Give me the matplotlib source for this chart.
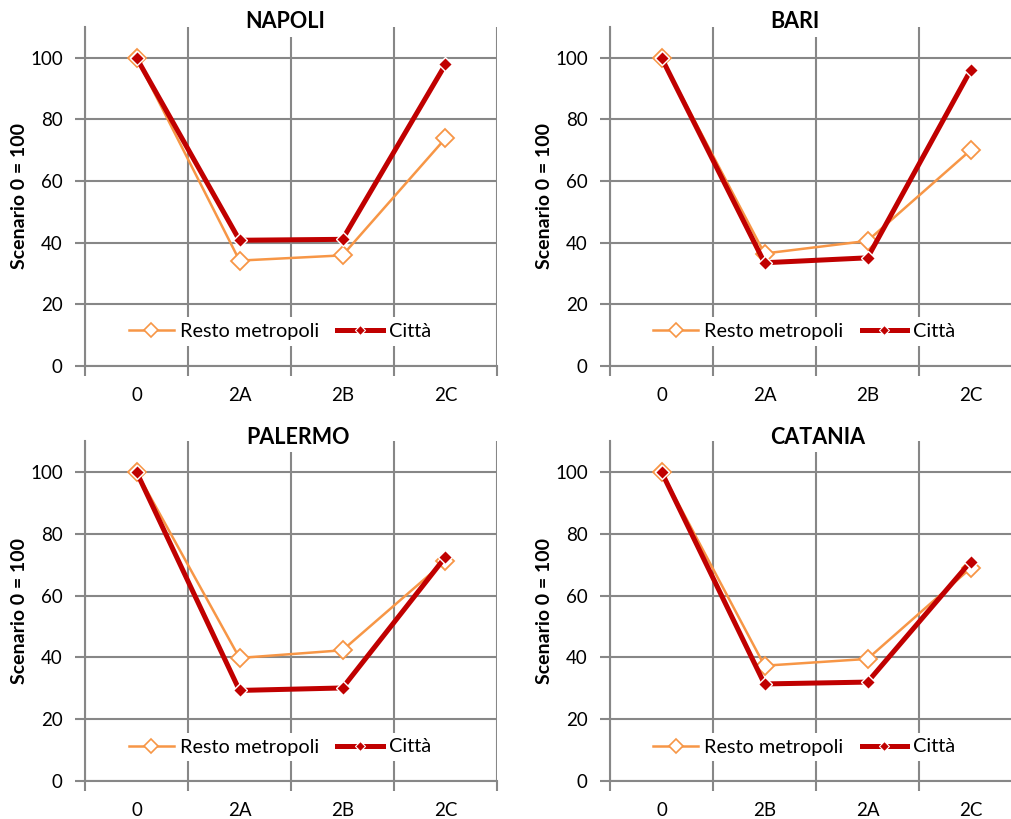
import matplotlib.pyplot as plt
from matplotlib.lines import Line2D

plt.rcParams['font.family'] = ['Lato', 'DejaVu Sans']

# categories (Catania has 2B before 2A)
cats_std = ['0', '2A', '2B', '2C']
cats_catania = ['0', '2B', '2A', '2C']

napoli_resto = [100, 34.2, 35.9, 73.9]
napoli_citta = [100, 40.8, 41.1, 97.9]
bari_resto = [100, 36.5, 40.6, 70.0]
bari_citta = [100, 33.5, 35.1, 95.9]
palermo_resto = [100, 39.8, 42.3, 71.2]
palermo_citta = [100, 29.3, 30.1, 72.5]
catania_resto = [100, 37.3, 39.5, 68.8]
catania_citta = [100, 31.4, 32.0, 70.9]

ORANGE = '#F79646'
RED = '#C00000'
GRID = '#878787'

W, H = 1011, 819
fig = plt.figure(figsize=(W / 100, H / 100), dpi=100)


def px_axes(left, top, right, bottom):
    return fig.add_axes([left / W, 1 - bottom / H, (right - left) / W, (bottom - top) / H])


def draw_panel(ax, cats, resto, citta, legend_xy):
    x = range(len(cats))
    ax.plot(x, resto, color=ORANGE, lw=1.8, marker='D', ms=9.5,
            mfc='white', mec=ORANGE, mew=1.3, zorder=3)
    ax.plot(x, citta, color=RED, lw=3.6, marker='D', ms=7.5,
            mfc=RED, mec='white', mew=1.0, zorder=4)

    ax.set_xlim(-0.5, len(cats) - 0.5)
    ax.set_ylim(0, 110)
    ax.set_yticks(range(0, 101, 20))
    ax.set_xticks([i - 0.5 for i in range(len(cats) + 1)])
    ax.set_xticklabels([])
    ax.set_xticks(list(x), minor=True)
    ax.set_xticklabels(cats, minor=True)
    ax.tick_params(axis='x', which='major', length=7, width=1.5, color=GRID)
    ax.tick_params(axis='x', which='minor', length=0, pad=15, labelsize=13.5)
    ax.tick_params(axis='y', length=7, width=1.5, color=GRID, pad=9, labelsize=13.5)
    ax.grid(True, which='major', color=GRID, lw=1.5)
    ax.set_axisbelow(True)
    for s in ['top', 'right']:
        ax.spines[s].set_visible(False)
    for s in ['left', 'bottom']:
        ax.spines[s].set_color(GRID)
        ax.spines[s].set_linewidth(1.5)

    h_resto = Line2D([], [], color=ORANGE, lw=1.8, marker='D', ms=7,
                     mfc='white', mec=ORANGE, mew=1.2)
    h_citta = Line2D([], [], color=RED, lw=3.6, marker='D', ms=5.5,
                     mfc=RED, mec='white', mew=0.8)
    leg = ax.legend([h_resto, h_citta], ['Resto metropoli', 'Città'], ncol=2,
                    loc='center', bbox_to_anchor=legend_xy, fontsize=14.3,
                    handlelength=2.3, handletextpad=0.3, columnspacing=0.9,
                    frameon=True, fancybox=False, borderpad=0.3)
    leg.get_frame().set_facecolor('white')
    leg.get_frame().set_edgecolor('none')
    leg.get_frame().set_alpha(1)


ax1 = px_axes(85, 27, 497, 366)
ax2 = px_axes(610, 27, 1022, 366)
ax3 = px_axes(85, 441, 497, 781)
ax4 = px_axes(610, 441, 1022, 781)

draw_panel(ax1, cats_std, napoli_resto, napoli_citta, (0.473, 0.103))
draw_panel(ax2, cats_std, bari_resto, bari_citta, (0.471, 0.103))
draw_panel(ax3, cats_std, palermo_resto, palermo_citta, (0.473, 0.10))
draw_panel(ax4, cats_catania, catania_resto, catania_citta, (0.471, 0.10))

# titles with white box covering gridlines
titles = [('NAPOLI', 285, 22), ('BARI', 795, 22), ('PALERMO', 298, 437), ('CATANIA', 818, 437)]
for name, tx, ty in titles:
    fig.text(tx / W, 1 - ty / H, name, ha='center', va='center', fontsize=15.5,
             fontweight='bold', zorder=10,
             bbox=dict(facecolor='white', edgecolor='none', pad=3))

# y labels
for lx, ly in [(20, 196), (545, 196), (20, 611), (545, 611)]:
    fig.text(lx / W, 1 - ly / H, 'Scenario 0 = 100', rotation=90, ha='center',
             va='center', fontsize=14, fontweight='bold')

fig.savefig('out.png', dpi=100)
